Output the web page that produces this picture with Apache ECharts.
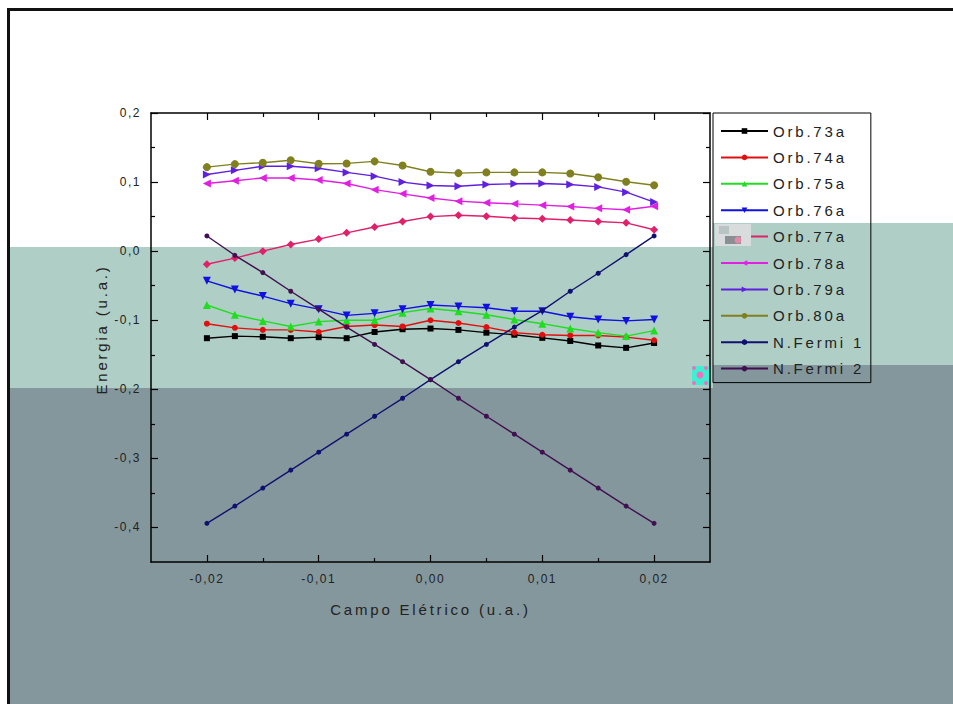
<!DOCTYPE html>
<html>
<head>
<meta charset="utf-8">
<script src="https://cdn.jsdelivr.net/npm/echarts@6/dist/echarts.min.js"></script>
<style>
html,body{margin:0;padding:0;background:#fff;}
#c{width:953px;height:704px;}
</style>
</head>
<body>
<div id="c"></div>
<script>
// ---- data ----
const xVals = [-0.02,-0.0175,-0.015,-0.0125,-0.01,-0.0075,-0.005,-0.0025,0,0.0025,0.005,0.0075,0.01,0.0125,0.015,0.0175,0.02];
const orb73 = [-0.126,-0.123,-0.124,-0.126,-0.1245,-0.126,-0.117,-0.113,-0.112,-0.114,-0.118,-0.121,-0.1255,-0.130,-0.1365,-0.140,-0.133];
const orb74 = [-0.105,-0.111,-0.114,-0.114,-0.117,-0.109,-0.107,-0.109,-0.100,-0.104,-0.110,-0.118,-0.121,-0.122,-0.122,-0.1245,-0.129];
const orb75 = [-0.078,-0.092,-0.101,-0.109,-0.102,-0.100,-0.100,-0.089,-0.083,-0.087,-0.092,-0.099,-0.105,-0.112,-0.118,-0.123,-0.115];
const orb76 = [-0.043,-0.0555,-0.065,-0.076,-0.084,-0.093,-0.090,-0.084,-0.078,-0.080,-0.082,-0.087,-0.087,-0.095,-0.099,-0.101,-0.099];
const orb77 = [-0.019,-0.010,0.000,0.0097,0.0175,0.0265,0.035,0.043,0.050,0.052,0.0506,0.048,0.047,0.045,0.043,0.041,0.031];
const orb78 = [0.098,0.102,0.106,0.106,0.103,0.098,0.089,0.083,0.077,0.0724,0.070,0.0685,0.0666,0.0647,0.062,0.060,0.065];
const orb79 = [0.111,0.117,0.123,0.123,0.120,0.114,0.1086,0.100,0.095,0.094,0.0965,0.0975,0.098,0.0965,0.093,0.0854,0.071];
const orb80 = [0.1216,0.126,0.128,0.1317,0.1265,0.127,0.130,0.124,0.115,0.113,0.114,0.114,0.114,0.1124,0.107,0.1004,0.0955];
const fermi1 = [-0.394,-0.369,-0.343,-0.317,-0.291,-0.265,-0.239,-0.213,-0.186,-0.160,-0.135,-0.110,-0.086,-0.058,-0.032,-0.005,0.022];
const fermi2 = [0.022,-0.006,-0.031,-0.058,-0.084,-0.110,-0.135,-0.160,-0.186,-0.213,-0.239,-0.265,-0.291,-0.317,-0.343,-0.369,-0.394];
const seriesNames = ['Orb.73a','Orb.74a','Orb.75a','Orb.76a','Orb.77a','Orb.78a','Orb.79a','Orb.80a','N.Fermi 1','N.Fermi 2'];
const xMajorTicks = [-0.02,-0.01,0,0.01,0.02];
const xMinorTicks = [-0.015,-0.005,0.005,0.015];
const yMajorTicks = [-0.4,-0.3,-0.2,-0.1,0,0.1,0.2];
const yMinorTicks = [-0.35,-0.25,-0.15,-0.05,0.05,0.15];
const xTitle = 'Campo Elétrico (u.a.)';
const yTitle = 'Energia (u.a.)';

// ---- styles ----
const allData = [orb73,orb74,orb75,orb76,orb77,orb78,orb79,orb80,fermi1,fermi2];
const colors = ['#000000','#e01010','#20dd20','#1010e0','#e0206a','#e020e0','#6020e0','#808020','#101070','#401050'];
const symbols = ['rect','circle','triangle','triangle','diamond','triangle','triangle','circle','circle','circle'];
const rot = [0,0,0,180,0,90,-90,0,0,0];
const sizes = [6,6,8,8,8,8,8,8,5,5];
const font = 'Arial, "Liberation Sans", sans-serif';

const fmtX = v => Math.abs(v) < 1e-9 ? '0,00' : v.toFixed(2).replace('.', ',');
const fmtY = v => Math.abs(v) < 1e-9 ? '0,0' : v.toFixed(1).replace('.', ',');

function xAx(pos, ticks, len, showLine, showLabel, extra) {
  return Object.assign({
    type: 'value', position: pos, min: -0.025, max: 0.025, gridIndex: 0,
    axisLine: {show: showLine, onZero: false, lineStyle: {color: '#000', width: 1.5}},
    axisTick: {show: true, inside: true, length: len, customValues: ticks, lineStyle: {color: '#000', width: 1.2}},
    axisLabel: {show: showLabel, customValues: ticks, formatter: fmtX, color: '#222', fontSize: 12, fontFamily: font, margin: 11},
    splitLine: {show: false}
  }, extra || {});
}
function yAx(pos, ticks, len, showLine, showLabel, extra) {
  return Object.assign({
    type: 'value', position: pos, min: -0.45, max: 0.2, gridIndex: 0,
    axisLine: {show: showLine, onZero: false, lineStyle: {color: '#000', width: 1.5}},
    axisTick: {show: true, inside: true, length: len, customValues: ticks, lineStyle: {color: '#000', width: 1.2}},
    axisLabel: {show: showLabel, customValues: ticks, formatter: fmtY, color: '#222', fontSize: 12, fontFamily: font, margin: 10},
    splitLine: {show: false}
  }, extra || {});
}

const series = allData.map((arr, k) => ({
  name: seriesNames[k], type: 'line', xAxisIndex: 0, yAxisIndex: 0,
  data: xVals.map((x, i) => [x, arr[i]]),
  symbol: symbols[k], symbolSize: sizes[k], symbolRotate: rot[k],
  lineStyle: {color: colors[k], width: 1.4},
  itemStyle: {color: colors[k]},
  z: 2 + k, animation: false
}));

const teal = '#afcec6', gray = '#84979c';
const option = {
  animation: false,
  backgroundColor: '#ffffff',
  grid: {left: 151, right: 243, top: 113, bottom: 142},
  xAxis: [
    xAx('bottom', xMajorTicks, 7, true, true, {name: xTitle, nameLocation: 'middle', nameGap: 40,
      nameTextStyle: {fontSize: 15, color: '#222', fontFamily: font}}),
    xAx('bottom', xMinorTicks, 4, false, false),
    xAx('top', xMajorTicks, 7, true, false),
    xAx('top', xMinorTicks, 4, false, false)
  ],
  yAxis: [
    yAx('left', yMajorTicks, 7, true, true, {name: yTitle, nameLocation: 'middle', nameGap: 42,
      nameTextStyle: {fontSize: 15, color: '#222', fontFamily: font, padding: [0, 0, 0, 16]}}),
    yAx('left', yMinorTicks, 4, false, false),
    yAx('right', yMajorTicks, 7, true, false),
    yAx('right', yMinorTicks, 4, false, false)
  ],
  legend: {
    orient: 'vertical', left: 713, top: 113,
    borderColor: '#000', borderWidth: 1, backgroundColor: 'transparent',
    padding: [10, 32, 6, 7], itemWidth: 47, itemHeight: 7, itemGap: 10.4,
    textStyle: {fontSize: 15, color: '#222', fontFamily: font, lineHeight: 16},
    data: seriesNames
  },
  graphic: [
    // background bands
    {type: 'rect', shape: {x: 9, y: 247, width: 704, height: 141}, style: {fill: teal}, z: -100, silent: true},
    {type: 'rect', shape: {x: 9, y: 388, width: 704, height: 316}, style: {fill: gray}, z: -100, silent: true},
    {type: 'rect', shape: {x: 713, y: 223, width: 240, height: 142}, style: {fill: teal}, z: -100, silent: true},
    {type: 'rect', shape: {x: 713, y: 365, width: 240, height: 339}, style: {fill: gray}, z: -100, silent: true},
    // frame
    {type: 'line', shape: {x1: 7, y1: 9.5, x2: 953, y2: 9.5}, style: {stroke: '#111', lineWidth: 3}, z: 100, silent: true},
    {type: 'line', shape: {x1: 8.5, y1: 8, x2: 8.5, y2: 704}, style: {stroke: '#111', lineWidth: 3}, z: 100, silent: true},
    // artifacts near legend
    {type: 'rect', shape: {x: 715, y: 224, width: 36, height: 22}, style: {fill: '#d9dcdc'}, z: 100, silent: true},
    {type: 'rect', shape: {x: 719, y: 226, width: 10, height: 8}, style: {fill: '#b8c4c4'}, z: 101, silent: true},
    {type: 'rect', shape: {x: 725, y: 236, width: 16, height: 8}, style: {fill: '#8a8f94'}, z: 101, silent: true},
    {type: 'circle', shape: {cx: 738, cy: 240, r: 3.5}, style: {fill: '#e08aa6'}, z: 102, silent: true},
    {type: 'rect', shape: {x: 692, y: 366, width: 17, height: 19}, style: {fill: '#3ef0d2'}, z: 100, silent: true},
    {type: 'circle', shape: {cx: 700, cy: 375, r: 3.5}, style: {fill: '#f070c0'}, z: 101, silent: true},
    {type: 'circle', shape: {cx: 694, cy: 368, r: 2}, style: {fill: '#f070c0'}, z: 101, silent: true},
    {type: 'circle', shape: {cx: 706, cy: 368, r: 2}, style: {fill: '#f070c0'}, z: 101, silent: true},
    {type: 'circle', shape: {cx: 694, cy: 383, r: 2}, style: {fill: '#f070c0'}, z: 101, silent: true},
    {type: 'circle', shape: {cx: 706, cy: 383, r: 2}, style: {fill: '#f070c0'}, z: 101, silent: true}
  ],
  series: series
};

const chart = echarts.init(document.getElementById('c'), null, {renderer: 'svg', width: 953, height: 704});
chart.setOption(option);

function spaceText() {
  document.querySelectorAll('#c svg text').forEach(t => {
    const fs = parseFloat(getComputedStyle(t).fontSize) || 12;
    t.style.letterSpacing = fs >= 14.5 ? '2.8px' : (fs >= 13.5 ? '2.6px' : '1.5px');
  });
}
spaceText();
chart.on('finished', spaceText);
setTimeout(spaceText, 50);
</script>
</body>
</html>
